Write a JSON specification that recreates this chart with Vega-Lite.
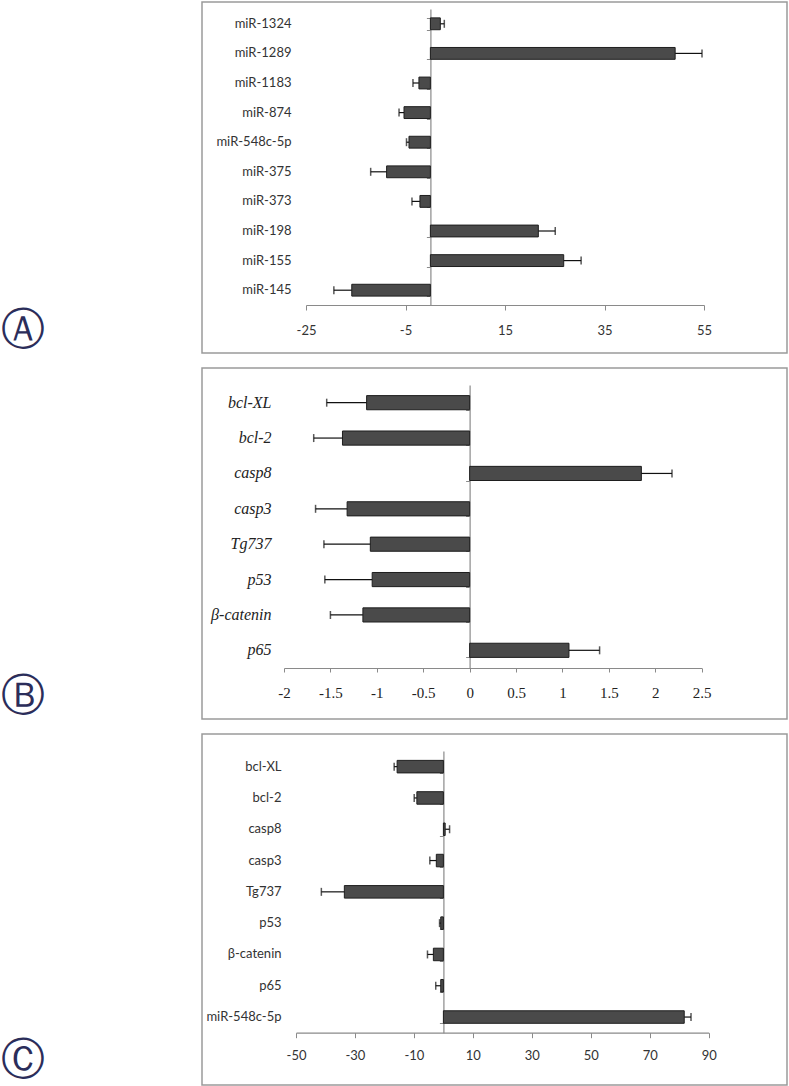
{
  "$schema": "https://vega.github.io/schema/vega-lite/v6.json",
  "padding": {"left": 0, "top": 1, "right": 0, "bottom": 1},
  "spacing": 15,
  "bounds": "flush",
  "config": {"view": {"stroke": "#9a9a9a", "strokeWidth": 1.5}},
  "datasets": {
    "A": [
      {"gene": "miR-1324", "value": 2.0, "errEnd": 2.8},
      {"gene": "miR-1289", "value": 49.2, "errEnd": 54.6},
      {"gene": "miR-1183", "value": -2.3, "errEnd": -3.5},
      {"gene": "miR-874", "value": -5.3, "errEnd": -6.3},
      {"gene": "miR-548c-5p", "value": -4.3, "errEnd": -4.8},
      {"gene": "miR-375", "value": -8.8, "errEnd": -12.0},
      {"gene": "miR-373", "value": -2.1, "errEnd": -3.7},
      {"gene": "miR-198", "value": 21.7, "errEnd": 25.1},
      {"gene": "miR-155", "value": 26.8, "errEnd": 30.3},
      {"gene": "miR-145", "value": -15.8, "errEnd": -19.4}
    ],
    "B": [
      {"gene": "bcl-XL", "value": -1.11, "errEnd": -1.54},
      {"gene": "bcl-2", "value": -1.37, "errEnd": -1.68},
      {"gene": "casp8", "value": 1.85, "errEnd": 2.18},
      {"gene": "casp3", "value": -1.32, "errEnd": -1.66},
      {"gene": "Tg737", "value": -1.07, "errEnd": -1.57},
      {"gene": "p53", "value": -1.05, "errEnd": -1.56},
      {"gene": "β-catenin", "value": -1.15, "errEnd": -1.50},
      {"gene": "p65", "value": 1.07, "errEnd": 1.40}
    ],
    "C": [
      {"gene": "bcl-XL", "value": -15.7, "errEnd": -16.7},
      {"gene": "bcl-2", "value": -9.0, "errEnd": -9.9},
      {"gene": "casp8", "value": 0.6, "errEnd": 2.1},
      {"gene": "casp3", "value": -2.4, "errEnd": -4.6},
      {"gene": "Tg737", "value": -33.6, "errEnd": -41.4},
      {"gene": "p53", "value": -0.9, "errEnd": -1.3},
      {"gene": "β-catenin", "value": -3.4, "errEnd": -5.4},
      {"gene": "p65", "value": -0.9, "errEnd": -2.6},
      {"gene": "miR-548c-5p", "value": 81.7, "errEnd": 84.0}
    ]
  },
  "vconcat": [
    {
      "width": 585, "height": 351,
      "data": {"name": "A"},
      "title": {"text": "Ⓐ", "orient": "left", "anchor": "start", "angle": 0, "align": "right", "baseline": "bottom", "offset": 113, "font": "DejaVu Sans", "fontSize": 44, "fontWeight": "normal", "color": "#2b2d5a"},
      "resolve": {"axis": {"y": "independent", "x": "independent"}},
      "layer": [
        {
          "mark": {"type": "bar", "fill": "#4a4a4a", "stroke": "#1e1e1e", "strokeWidth": 1},
          "encoding": {
            "y": {"field": "gene", "type": "nominal", "sort": null,
              "scale": {"range": [7, 303], "paddingInner": 0.6},
              "axis": {"orient": "left", "offset": -89, "title": null, "domain": false, "ticks": false, "tickSize": 0, "labelPadding": 0, "labelFont": "Lato", "labelFontSize": 13, "labelColor": "#333333", "labelLimit": 0}},
            "x": {"field": "value", "type": "quantitative",
              "scale": {"domain": [-25, 55], "range": [104, 502], "nice": false, "zero": false},
              "axis": {"orient": "bottom", "offset": -48, "values": [-25, -5, 15, 35, 55], "labelExpr": "'' + datum.value", "title": null, "grid": false, "domainColor": "#8a8a8a", "domainWidth": 1.2, "tickColor": "#8a8a8a", "tickSize": 5, "labelPadding": 14, "labelFlush": false, "labelFont": "Lato", "labelFontSize": 13, "labelColor": "#333333"}}
          }
        },
        {
          "mark": {"type": "rule", "color": "#111111", "strokeWidth": 1.2},
          "encoding": {
            "y": {"field": "gene", "type": "nominal", "sort": null,
              "axis": {"orient": "left", "offset": -228.4, "labels": false, "title": null, "domain": true, "domainColor": "#8a8a8a", "domainWidth": 1.2, "ticks": true, "tickBand": "extent", "tickSize": 4, "tickColor": "#8a8a8a", "grid": false}},
            "x": {"field": "value", "type": "quantitative", "axis": null},
            "x2": {"field": "errEnd"}
          }
        },
        {
          "mark": {"type": "tick", "color": "#111111", "thickness": 1.5, "size": 8},
          "encoding": {
            "y": {"field": "gene", "type": "nominal", "sort": null, "axis": null},
            "x": {"field": "errEnd", "type": "quantitative", "axis": null}
          }
        }
      ]
    },
    {
      "width": 585, "height": 351,
      "data": {"name": "B"},
      "title": {"text": "Ⓑ", "orient": "left", "anchor": "start", "angle": 0, "align": "right", "baseline": "bottom", "offset": 113, "font": "DejaVu Sans", "fontSize": 44, "fontWeight": "normal", "color": "#2b2d5a"},
      "resolve": {"axis": {"y": "independent", "x": "independent"}},
      "layer": [
        {
          "mark": {"type": "bar", "fill": "#4a4a4a", "stroke": "#1e1e1e", "strokeWidth": 1},
          "encoding": {
            "y": {"field": "gene", "type": "nominal", "sort": null,
              "scale": {"range": [17, 300], "paddingInner": 0.6},
              "axis": {"orient": "left", "offset": -69, "title": null, "domain": false, "ticks": false, "tickSize": 0, "labelPadding": 0, "labelFont": "Liberation Serif", "labelFontStyle": "italic", "labelFontSize": 16, "labelColor": "#222222", "labelLimit": 0}},
            "x": {"field": "value", "type": "quantitative",
              "scale": {"domain": [-2, 2.5], "range": [82, 499.7], "nice": false, "zero": false},
              "axis": {"orient": "bottom", "offset": -51, "values": [-2, -1.5, -1, -0.5, 0, 0.5, 1, 1.5, 2, 2.5], "labelExpr": "'' + datum.value", "title": null, "grid": false, "domainColor": "#8a8a8a", "domainWidth": 1.2, "tickColor": "#8a8a8a", "tickSize": 4, "labelPadding": 13, "labelFlush": false, "labelFont": "Liberation Serif", "labelFontSize": 15, "labelColor": "#222222"}}
          }
        },
        {
          "mark": {"type": "rule", "color": "#111111", "strokeWidth": 1.2},
          "encoding": {
            "y": {"field": "gene", "type": "nominal", "sort": null,
              "axis": {"orient": "left", "offset": -267.6, "labels": false, "title": null, "domain": true, "domainColor": "#8a8a8a", "domainWidth": 1.2, "ticks": true, "tickBand": "extent", "tickSize": 4, "tickColor": "#8a8a8a", "grid": false}},
            "x": {"field": "value", "type": "quantitative", "axis": null},
            "x2": {"field": "errEnd"}
          }
        },
        {
          "mark": {"type": "tick", "color": "#111111", "thickness": 1.5, "size": 8},
          "encoding": {
            "y": {"field": "gene", "type": "nominal", "sort": null, "axis": null},
            "x": {"field": "errEnd", "type": "quantitative", "axis": null}
          }
        }
      ]
    },
    {
      "width": 585, "height": 351,
      "data": {"name": "C"},
      "title": {"text": "Ⓒ", "orient": "left", "anchor": "start", "angle": 0, "align": "right", "baseline": "bottom", "offset": 113, "dy": -2, "font": "DejaVu Sans", "fontSize": 44, "fontWeight": "normal", "color": "#2b2d5a"},
      "resolve": {"axis": {"y": "independent", "x": "independent"}},
      "layer": [
        {
          "mark": {"type": "bar", "fill": "#4a4a4a", "stroke": "#1e1e1e", "strokeWidth": 1},
          "encoding": {
            "y": {"field": "gene", "type": "nominal", "sort": null,
              "scale": {"range": [17, 298.7], "paddingInner": 0.6},
              "axis": {"orient": "left", "offset": -79, "title": null, "domain": false, "ticks": false, "tickSize": 0, "labelPadding": 0, "labelFont": "Lato", "labelFontSize": 13, "labelColor": "#333333", "labelLimit": 0}},
            "x": {"field": "value", "type": "quantitative",
              "scale": {"domain": [-50, 90], "range": [94, 506.7], "nice": false, "zero": false},
              "axis": {"orient": "bottom", "offset": -52.3, "values": [-50, -30, -10, 10, 30, 50, 70, 90], "labelExpr": "'' + datum.value", "title": null, "grid": false, "domainColor": "#8a8a8a", "domainWidth": 1.2, "tickColor": "#8a8a8a", "tickSize": 5, "labelPadding": 12, "labelFlush": false, "labelFont": "Lato", "labelFontSize": 13, "labelColor": "#333333"}}
          }
        },
        {
          "mark": {"type": "rule", "color": "#111111", "strokeWidth": 1.2},
          "encoding": {
            "y": {"field": "gene", "type": "nominal", "sort": null,
              "axis": {"orient": "left", "offset": -241.4, "labels": false, "title": null, "domain": true, "domainColor": "#8a8a8a", "domainWidth": 1.2, "ticks": true, "tickBand": "extent", "tickSize": 4, "tickColor": "#8a8a8a", "grid": false}},
            "x": {"field": "value", "type": "quantitative", "axis": null},
            "x2": {"field": "errEnd"}
          }
        },
        {
          "mark": {"type": "tick", "color": "#111111", "thickness": 1.5, "size": 8},
          "encoding": {
            "y": {"field": "gene", "type": "nominal", "sort": null, "axis": null},
            "x": {"field": "errEnd", "type": "quantitative", "axis": null}
          }
        }
      ]
    }
  ]
}
